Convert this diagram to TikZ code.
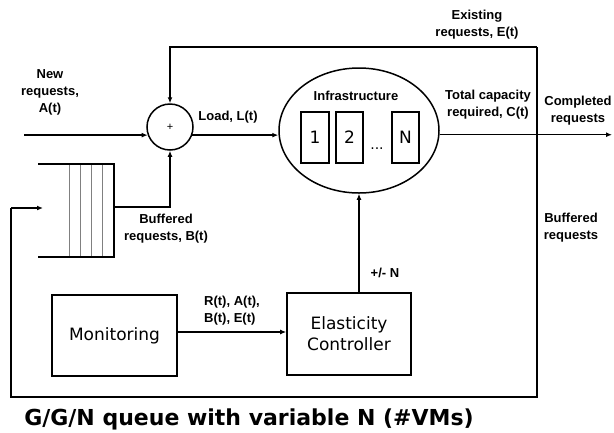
\documentclass[tikz,border=0pt]{standalone}
\usepackage{fontspec}
\usetikzlibrary{shapes.geometric,arrows.meta,calc}
\newfontfamily\lblfont{Liberation Sans}
\newfontfamily\dvfont{DejaVu Sans}
\begin{document}
\begin{tikzpicture}[x=1pt,y=-1pt,
  wire/.style={line width=1.3pt},
  arr/.style={wire,-{Latex[length=6pt,width=5pt]}},
  lbl/.style={font=\lblfont\bfseries\fontsize{13}{17}\selectfont,align=center,inner sep=0pt},
  blk/.style={draw,line width=1.6pt,rectangle,inner sep=0pt,align=center,
              font=\dvfont\fontsize{17}{21}\selectfont},
  vm/.style={draw,line width=1.6pt,rectangle,inner sep=0pt,minimum height=51pt,
             font=\dvfont\fontsize{17}{21}\selectfont}]
\useasboundingbox (0,0) rectangle (614,432);

% summing junction and infrastructure
\node[draw,circle,line width=1.5pt,minimum size=46pt,inner sep=0pt,
      font=\lblfont\fontsize{11}{13}\selectfont] (sum) at (170,127) {+};
\node[draw,ellipse,line width=1.5pt,minimum width=160pt,minimum height=125pt,
      inner sep=0pt] (infra) at (359,130.5) {};
\node[lbl] (infralbl) at (356,96) {Infrastructure};
\node[vm,minimum width=28pt] (vm1) at (315,137.5) {1};
\node[vm,minimum width=27pt] (vm2) at (349.5,137.5) {2};
\node[font=\dvfont\fontsize{14}{16}\selectfont,inner sep=0pt,anchor=base] (dots) at (377,149) {...};
\node[vm,minimum width=27pt] (vmN) at (405.5,137.5) {N};

% control blocks
\node[blk,minimum width=125pt,minimum height=81pt] (mon) at (114.5,335.5) {Monitoring};
\node[blk,minimum width=124pt,minimum height=82pt] (ctrl) at (349,334) {Elasticity\\Controller};

% request buffer
\draw[gray,line width=0.9pt] (69,164) -- (69,257) (80,164) -- (80,257)
  (91,164) -- (91,257) (102,164) -- (102,257);
\draw[wire] (38,164) -- (114,164) -- (114,257) -- (38,257);

% free ends of the connectors
\coordinate (newin) at (24,0);
\coordinate (qout) at (114,207);
\coordinate (qin) at (43,208);
\coordinate (tr) at (537,47);
\coordinate (br) at (537,397);
\coordinate (bl) at (11,397);
\coordinate (done) at (612,0);

% connectors
\draw[arr] (sum.200 -| newin) -- (sum.200);
\draw[arr] (sum.-20) -- (sum.-20 -| infra.west);
\draw[arr] (tr) -- (tr -| sum.north) -- (sum.north);
\draw[arr] (qout) -- (qout -| sum.south) -- (sum.south);
\draw[wire] (tr) -- (br) -- (bl) -- (bl |- qin);
\draw[arr] (bl |- qin) -- (qin);
\draw[arr] (infra.-3.5) -- (infra.-3.5 -| done);
\draw[arr] (mon.east |- 0,332) -- (ctrl.west |- 0,332);
\draw[arr] (infra.south |- ctrl.north) -- (infra.south);

% labels
\node[lbl] at (50,92) {New\\requests,\\A(t)};
\node[lbl] at (228,117) {Load, L(t)};
\node[lbl] at (477,25) {Existing\\requests, E(t)};
\node[lbl] at (488,105) {Total capacity\\required, C(t)};
\node[lbl] at (578,111) {Completed\\requests};
\node[lbl] at (166,229) {Buffered\\requests, B(t)};
\node[lbl] at (571,228) {Buffered\\requests};
\node[lbl] at (385,273) {+/- N};
\node[lbl,align=left,anchor=west] at (204,311) {R(t), A(t),\\B(t), E(t)};

% caption
\node[font=\dvfont\bfseries\fontsize{22}{26}\selectfont,inner sep=0pt] (title) at (249,419)
  {G/G/N queue with variable N (\#VMs)};
\end{tikzpicture}
\end{document}
